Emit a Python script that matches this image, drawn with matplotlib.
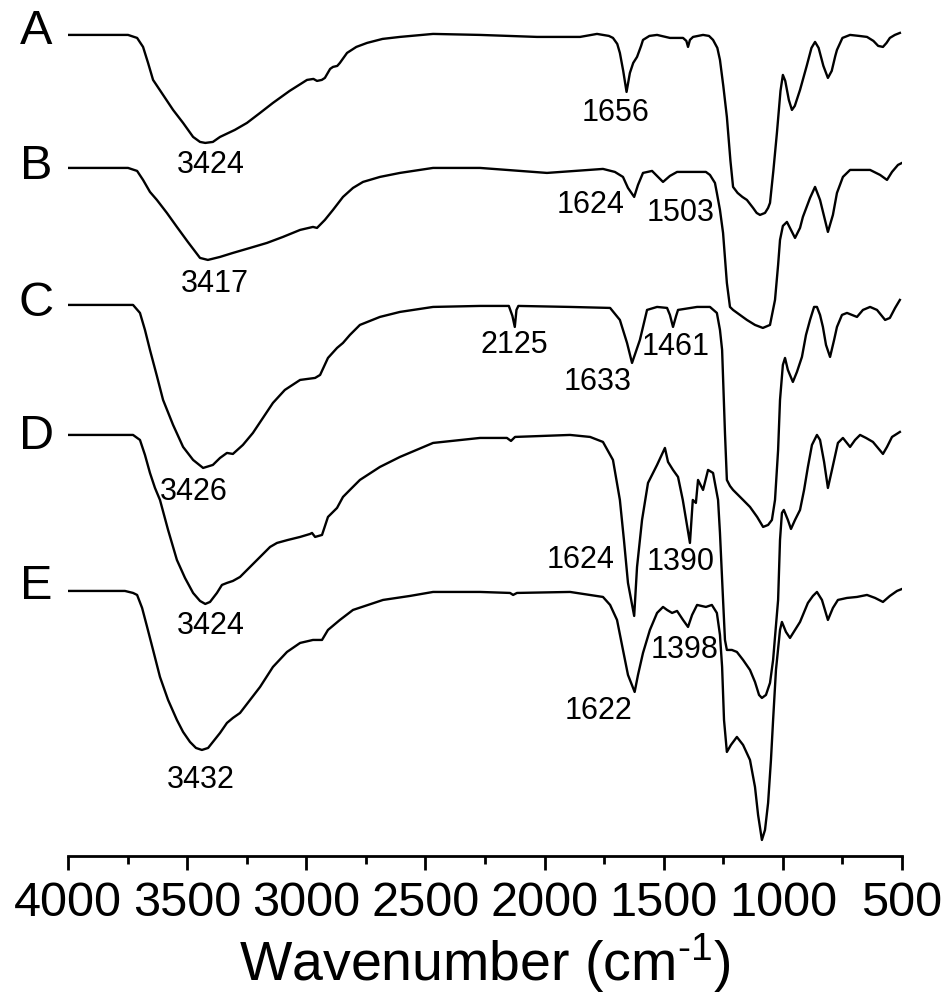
import numpy as np
import matplotlib
matplotlib.use("Agg")
import matplotlib.pyplot as plt

plt.rcParams['font.family'] = ['Liberation Sans', 'DejaVu Sans']
plt.rcParams['mathtext.fontset'] = 'custom'
plt.rcParams['mathtext.rm'] = 'Liberation Sans'
plt.rcParams['mathtext.default'] = 'regular'

# FTIR spectra, offset transmittance (a.u.)
wn_A = [4000, 3748, 3710, 3685, 3664, 3643, 3601, 3559, 3517, 3475, 3446, 3424, 3392, 3362, 3300, 3249, 3194, 3140,
        3070, 2997, 2970, 2955, 2935, 2922, 2900, 2888, 2870, 2859, 2829, 2790, 2745, 2680, 2607, 2468, 2271, 2032,
        1851, 1780, 1730, 1713, 1695, 1684, 1670, 1656, 1642, 1628, 1612, 1595, 1587, 1560, 1528, 1474, 1419, 1405,
        1398, 1390, 1377, 1335, 1310, 1293, 1275, 1264, 1250, 1235, 1220, 1209, 1190, 1170, 1151, 1125, 1110, 1096,
        1075, 1062, 1054, 1040, 1025, 1010, 1000, 990, 975, 962, 950, 928, 900, 880, 865, 850, 830, 811, 795, 780,
        773, 750, 718, 680, 647, 620, 600, 580, 565, 551, 530, 509]
t_A = [82.1, 82.1, 81.8, 80.9, 79.3, 77.6, 76.1, 74.6, 73.3, 71.9, 71.4, 71.3, 71.4, 71.9, 72.6, 73.3, 74.3, 75.3,
       76.5, 77.6, 77.7, 77.5, 77.6, 77.8, 78.7, 78.9, 79.0, 79.3, 80.3, 80.9, 81.3, 81.7, 81.9, 82.2, 82.1, 81.9,
       81.9, 82.2, 82.0, 81.8, 81.2, 80.3, 78.5, 76.4, 78.3, 79.3, 79.9, 81.0, 81.6, 82.0, 82.1, 81.8, 81.8, 81.5,
       80.9, 81.6, 81.9, 82.1, 82.0, 81.6, 80.8, 79.6, 77.0, 73.9, 69.5, 66.9, 66.3, 65.9, 65.6, 64.8, 64.3, 64.1,
       64.3, 64.8, 65.3, 68.5, 72.3, 76.5, 78.1, 77.5, 75.6, 74.6, 75.0, 76.6, 79.0, 80.8, 81.4, 80.8, 79.0, 77.8,
       78.5, 80.0, 80.6, 81.8, 82.1, 82.0, 81.9, 81.5, 81.0, 80.9, 81.3, 81.8, 82.1, 82.3]

wn_B = [4000, 3748, 3710, 3685, 3656, 3627, 3585, 3543, 3497, 3446, 3413, 3362, 3308, 3236, 3165, 3098, 3026, 2972,
        2955, 2922, 2888, 2846, 2804, 2762, 2691, 2607, 2468, 2271, 1990, 1755, 1705, 1671, 1650, 1624, 1608, 1587,
        1549, 1524, 1503, 1474, 1444, 1390, 1323, 1306, 1285, 1277, 1264, 1251, 1235, 1222, 1209, 1180, 1151, 1117,
        1084, 1054, 1033, 1020, 1012, 1000, 983, 966, 949, 928, 916, 886, 865, 844, 811, 790, 773, 748, 718, 634,
        592, 563, 542, 517, 500]
t_B = [68.8, 68.8, 68.5, 67.6, 66.4, 65.6, 64.3, 62.9, 61.4, 59.8, 59.6, 59.9, 60.3, 60.8, 61.3, 61.9, 62.6, 62.9,
       62.8, 63.6, 64.6, 65.9, 66.8, 67.4, 67.9, 68.3, 68.8, 68.8, 68.3, 68.7, 68.4, 67.9, 66.8, 65.9, 67.1, 68.3,
       68.5, 67.9, 67.4, 68.0, 68.4, 68.4, 68.4, 68.1, 67.3, 66.3, 64.6, 62.3, 57.3, 54.9, 54.6, 54.1, 53.6, 53.1,
       52.8, 53.1, 55.6, 59.1, 61.6, 63.0, 63.4, 62.6, 61.8, 62.8, 63.9, 65.8, 66.9, 65.6, 62.4, 64.1, 66.3, 67.9,
       68.6, 68.6, 68.1, 67.6, 68.4, 69.1, 69.3]

wn_C = [4000, 3727, 3698, 3677, 3656, 3627, 3601, 3559, 3517, 3475, 3433, 3392, 3362, 3333, 3308, 3266, 3224, 3182,
        3140, 3090, 3026, 2963, 2942, 2909, 2871, 2846, 2817, 2775, 2691, 2607, 2468, 2271, 2174, 2150, 2135, 2125,
        2118, 2110, 1893, 1725, 1684, 1654, 1633, 1600, 1570, 1528, 1486, 1474, 1461, 1448, 1440, 1360, 1306, 1277,
        1264, 1255, 1243, 1235, 1222, 1209, 1167, 1138, 1108, 1083, 1062, 1046, 1033, 1020, 1012, 1000, 991, 979,
        958, 941, 920, 903, 886, 869, 857, 844, 832, 819, 802, 785, 773, 752, 731, 710, 689, 664, 634, 605, 571,
        551, 529, 509]
t_C = [55.1, 55.1, 54.3, 52.6, 50.6, 48.0, 45.6, 43.1, 40.9, 39.6, 38.8, 39.1, 39.8, 40.3, 40.2, 41.1, 42.3, 43.8,
       45.3, 46.6, 47.6, 47.8, 48.1, 49.8, 50.8, 51.3, 52.1, 53.1, 53.9, 54.4, 54.9, 55.0, 55.0, 55.0, 54.0, 52.9,
       54.6, 55.0, 54.9, 54.8, 53.6, 51.3, 49.3, 51.6, 54.6, 54.9, 54.8, 54.1, 52.9, 54.0, 54.6, 54.9, 54.9, 54.3,
       52.6, 50.6, 42.3, 37.6, 37.0, 36.6, 35.6, 34.9, 33.9, 32.9, 33.1, 33.6, 35.6, 40.6, 45.6, 49.1, 49.8, 48.6,
       47.4, 48.4, 49.9, 52.1, 53.6, 54.9, 54.9, 54.1, 52.9, 51.1, 49.9, 51.6, 52.9, 54.1, 54.3, 54.1, 53.9, 54.6,
       54.9, 54.6, 53.6, 53.8, 54.8, 55.6]

wn_D = [4000, 3727, 3698, 3677, 3656, 3635, 3614, 3580, 3543, 3509, 3475, 3446, 3424, 3404, 3375, 3354, 3333, 3308,
        3278, 3236, 3194, 3152, 3123, 3077, 3026, 2984, 2976, 2963, 2934, 2909, 2871, 2846, 2817, 2775, 2691, 2607,
        2468, 2271, 2158, 2141, 2124, 1893, 1809, 1755, 1713, 1684, 1667, 1650, 1624, 1612, 1591, 1566, 1528, 1495,
        1482, 1461, 1440, 1420, 1390, 1378, 1365, 1356, 1335, 1314, 1293, 1272, 1264, 1251, 1243, 1235, 1214, 1193,
        1167, 1138, 1117, 1100, 1088, 1071, 1054, 1041, 1033, 1020, 1012, 1004, 996, 979, 966, 949, 928, 911, 895,
        878, 857, 844, 827, 811, 794, 769, 748, 718, 697, 676, 651, 622, 601, 580, 563, 542, 509]
t_D = [42.1, 42.1, 41.6, 40.1, 38.3, 36.8, 35.6, 32.6, 29.6, 27.8, 26.3, 25.5, 25.2, 25.4, 26.3, 27.1, 27.3, 27.5,
       27.9, 28.9, 29.9, 30.9, 31.3, 31.6, 31.9, 32.2, 32.3, 31.9, 32.1, 33.9, 34.8, 35.9, 36.6, 37.6, 38.9, 39.9,
       41.3, 41.8, 41.8, 41.5, 41.9, 42.1, 41.9, 41.4, 39.6, 35.6, 31.6, 27.3, 24.0, 28.9, 33.6, 37.3, 39.1, 40.8,
       39.4, 38.6, 37.9, 35.6, 31.3, 35.6, 35.3, 37.6, 36.6, 38.6, 38.3, 35.6, 32.3, 25.6, 21.6, 20.6, 20.6, 20.4,
       19.6, 18.6, 17.4, 16.1, 15.8, 16.1, 17.3, 19.6, 21.9, 25.6, 31.6, 34.3, 34.6, 33.6, 32.7, 33.6, 34.6, 36.6,
       38.9, 41.1, 42.1, 41.6, 39.4, 36.8, 38.6, 41.3, 41.8, 40.9, 41.6, 42.1, 41.8, 41.4, 40.8, 40.2, 40.9, 41.9, 42.4]

wn_E = [4000, 3761, 3727, 3710, 3689, 3668, 3643, 3614, 3580, 3543, 3517, 3488, 3463, 3438, 3412, 3392, 3362, 3333,
        3308, 3278, 3236, 3194, 3140, 3081, 3026, 2972, 2934, 2909, 2859, 2804, 2741, 2678, 2565, 2468, 2271, 2145,
        2132, 2116, 1893, 1755, 1725, 1696, 1671, 1650, 1622, 1608, 1587, 1558, 1528, 1503, 1486, 1465, 1444, 1419,
        1398, 1381, 1360, 1323, 1298, 1277, 1264, 1255, 1247, 1235, 1218, 1193, 1167, 1138, 1117, 1104, 1088, 1075,
        1062, 1050, 1041, 1029, 1012, 1004, 987, 970, 949, 928, 895, 874, 857, 836, 811, 790, 769, 731, 689, 647,
        613, 580, 551, 521, 500]
t_E = [26.5, 26.5, 26.3, 26.1, 24.8, 22.9, 20.6, 17.9, 15.6, 13.6, 12.4, 11.4, 10.8, 10.6, 10.8, 11.4, 12.3, 13.3,
       13.8, 14.3, 15.6, 16.9, 18.9, 20.4, 21.3, 21.6, 21.6, 22.6, 23.6, 24.6, 25.1, 25.6, 26.0, 26.4, 26.4, 26.3,
       26.1, 26.3, 26.4, 25.9, 25.1, 23.6, 20.6, 18.1, 16.4, 18.1, 20.3, 22.6, 24.3, 24.9, 24.6, 24.3, 24.5, 23.6,
       22.9, 24.1, 25.1, 24.9, 25.1, 24.3, 22.1, 18.9, 13.6, 10.4, 11.1, 11.9, 11.1, 9.6, 6.9, 4.1, 1.6, 2.6,
       5.3, 9.6, 13.6, 18.6, 22.6, 23.4, 22.4, 21.8, 22.6, 23.4, 25.3, 26.0, 26.4, 25.6, 23.6, 24.8, 25.6, 25.8,
       25.9, 26.1, 25.8, 25.4, 26.0, 26.5, 26.7]

samples = ['A', 'B', 'C', 'D', 'E']
sample_label_t = [82.4, 68.9, 55.2, 41.9, 26.9]

# peak annotations: text, wavenumber, transmittance
peak_text = ['3424', '3417', '3426', '3424', '3432',
             '1656', '1624', '1503', '2125', '1633', '1461',
             '1624', '1390', '1398', '1622']
peak_wn = [3400, 3383, 3471, 3400, 3442,
           1704, 1805, 1427, 2128, 1776, 1448,
           1847, 1427, 1411, 1772]
peak_t = [69.1, 57.2, 36.4, 23.0, 7.6,
          74.3, 65.1, 64.3, 51.1, 47.4, 50.9,
          29.6, 29.4, 20.6, 14.5]

fig = plt.figure(figsize=(9.47, 10.01), dpi=100)
ax = fig.add_axes([0.0718, 0.1449, 0.8807, 0.8392])

for wn, t in [(wn_A, t_A), (wn_B, t_B), (wn_C, t_C), (wn_D, t_D), (wn_E, t_E)]:
    ax.plot(wn, t, color='black', lw=1.7, solid_joinstyle='round')

for s, t in zip(samples, sample_label_t):
    ax.text(4134, t, s, fontsize=35, ha='center', va='center', clip_on=False)

for s, w, t in zip(peak_text, peak_wn, peak_t):
    ax.text(w, t, s, fontsize=22, ha='center', va='center')

ax.set_xlim(4000, 500)
ax.set_ylim(0, 84)
ax.set_xticks(np.arange(4000, 499, -500))
ax.set_xticks(np.arange(3750, 500, -500), minor=True)
for side in ['left', 'right', 'top']:
    ax.spines[side].set_visible(False)
ax.spines['bottom'].set_linewidth(2)
ax.set_yticks([])
ax.tick_params(axis='x', which='major', direction='out', length=10, width=2, labelsize=35, pad=8)
ax.tick_params(axis='x', which='minor', direction='out', length=6, width=2)
ax.set_xlabel(r'Wavenumber (cm$^{\text{-}1}$)', fontsize=40, labelpad=4)

fig.savefig('out.png', dpi=100)
